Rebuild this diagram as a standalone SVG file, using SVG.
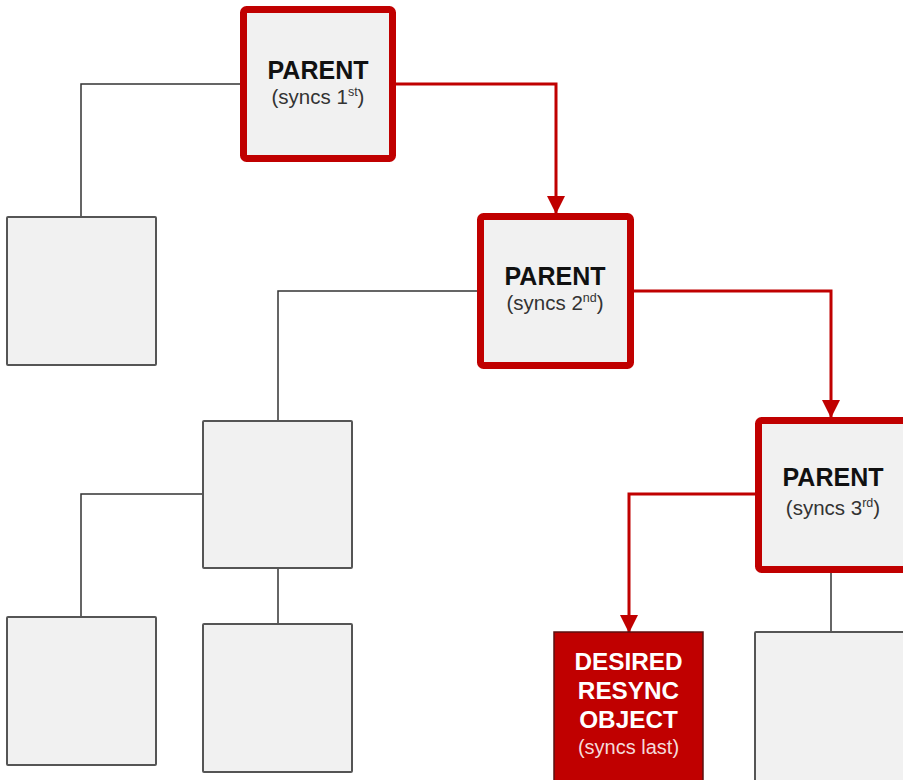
<svg xmlns="http://www.w3.org/2000/svg" width="903" height="780" viewBox="0 0 903 780">
<style>
.parent{fill:#f1f1f1;stroke:#c00000;stroke-width:7}
.box{fill:#f1f1f1;stroke:#555;stroke-width:2}
.target{fill:#c00000;stroke:#5a1010;stroke-width:1.5}
.gl{fill:none;stroke:#333;stroke-width:1.5}
.rl{fill:none;stroke:#c00000;stroke-width:3}
.t1{font-family:"Liberation Sans",Arial,sans-serif;font-weight:bold;font-size:25px;fill:#111;text-anchor:middle}
.t2{font-family:"Liberation Sans",Arial,sans-serif;font-size:20.5px;fill:#333;text-anchor:middle}
.w1{font-family:"Liberation Sans",Arial,sans-serif;font-weight:bold;font-size:24.3px;fill:#fff;text-anchor:middle}
.w2{font-family:"Liberation Sans",Arial,sans-serif;font-size:20px;fill:#f4dada;text-anchor:middle}
.sup{font-size:12.5px}
</style>
<defs>
<marker id="arr" markerUnits="userSpaceOnUse" markerWidth="18" markerHeight="18" viewBox="0 0 18 18" refX="17" refY="9" orient="auto">
<path d="M0,0 L18,9 L0,18 Z" fill="#c00000"/>
</marker>
</defs>
<g id="connectors">
<polyline class="gl" points="240,84 81,84 81,217"/>
<polyline class="rl" points="396,84 556,84 556,213" marker-end="url(#arr)"/>
<polyline class="gl" points="477,291 278,291 278,421"/>
<polyline class="rl" points="634,291 831,291 831,417" marker-end="url(#arr)"/>
<polyline class="gl" points="203,494 81,494 81,617"/>
<line class="gl" x1="278" y1="568" x2="278" y2="624"/>
<polyline class="rl" points="755,494 629,494 629,632" marker-end="url(#arr)"/>
<line class="gl" x1="831" y1="573" x2="831" y2="632"/>
</g>
<g id="parent1">
<rect class="parent" x="243.5" y="9.5" width="149" height="149" rx="3"/>
<text class="t1" x="318" y="79">PARENT</text>
<text class="t2" x="318" y="104">(syncs 1<tspan class="sup" dy="-8">st</tspan><tspan dy="8">)</tspan></text>
</g>
<g id="parent2">
<rect class="parent" x="480.5" y="216.5" width="150" height="149" rx="3"/>
<text class="t1" x="555" y="285">PARENT</text>
<text class="t2" x="555" y="310">(syncs 2<tspan class="sup" dy="-8">nd</tspan><tspan dy="8">)</tspan></text>
</g>
<g id="parent3">
<rect class="parent" x="758.5" y="420.5" width="152" height="149" rx="3"/>
<text class="t1" x="833" y="486">PARENT</text>
<text class="t2" x="833" y="515">(syncs 3<tspan class="sup" dy="-8">rd</tspan><tspan dy="8">)</tspan></text>
</g>
<g id="box1">
<rect class="box" x="7" y="217" width="149" height="148" rx="1"/>
</g>
<g id="box2">
<rect class="box" x="203" y="421" width="149" height="147" rx="1"/>
</g>
<g id="box3">
<rect class="box" x="7" y="617" width="149" height="148" rx="1"/>
</g>
<g id="box4">
<rect class="box" x="203" y="624" width="149" height="148" rx="1"/>
</g>
<g id="box5">
<rect class="box" x="755" y="632" width="152" height="152" rx="1"/>
</g>
<g id="target">
<rect class="target" x="554" y="632" width="149" height="152"/>
<text class="w1" x="628.5" y="670">DESIRED</text>
<text class="w1" x="628.5" y="699">RESYNC</text>
<text class="w1" x="628.5" y="728">OBJECT</text>
<text class="w2" x="628.5" y="754">(syncs last)</text>
</g>
</svg>
